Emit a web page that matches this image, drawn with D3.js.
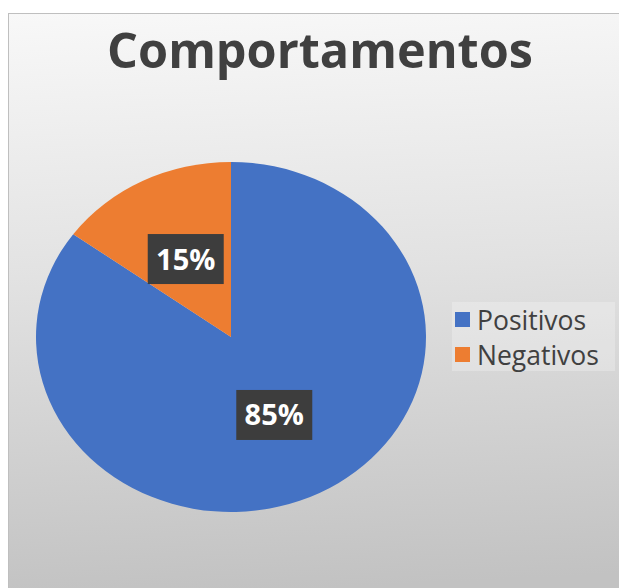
<!DOCTYPE html>
<html>
<head>
<meta charset="utf-8">
<script src="https://cdn.jsdelivr.net/npm/d3@7"></script>
<style>
  html, body { margin: 0; padding: 0; background: #ffffff; }
  svg { display: block; }
</style>
</head>
<body>
<svg id="chart" width="619" height="588"></svg>
<script>
const title = "Comportamentos";
const categories = ["Positivos", "Negativos"];
const values = [85, 15];
const colors = ["#4472C4", "#ED7D31"];

const W = 619, H = 588;
const svg = d3.select("#chart");

const defs = svg.append("defs");
const grad = defs.append("linearGradient")
  .attr("id", "bg").attr("x1", "0").attr("y1", "0").attr("x2", "0.05").attr("y2", "1");
grad.append("stop").attr("offset", "0%").attr("stop-color", "#f8f8f8");
grad.append("stop").attr("offset", "45%").attr("stop-color", "#e2e2e2");
grad.append("stop").attr("offset", "100%").attr("stop-color", "#c2c2c2");

// chart area
svg.append("rect")
  .attr("x", 8.5).attr("y", 13.5)
  .attr("width", W).attr("height", H)
  .attr("fill", "url(#bg)")
  .attr("stroke", "#bfbfbf").attr("stroke-width", 1);

// title
svg.append("text")
  .attr("x", 320).attr("y", 68)
  .attr("text-anchor", "middle")
  .attr("font-family", "'Open Sans', sans-serif")
  .attr("font-weight", "bold")
  .attr("font-size", 48.6)
  .attr("fill", "#404040")
  .text(title);

// pie
const cx = 231, cy = 337, r = 175, sx = 195 / 175;
const pie = d3.pie().sort(null).value(d => d.v);
const data = pie(categories.map((c, i) => ({ c, v: values[i], col: colors[i] })));
const arc = d3.arc().innerRadius(0).outerRadius(r);

const g = svg.append("g").attr("transform", `translate(${cx},${cy})`);
g.append("g").attr("transform", `scale(${sx},1)`)
  .selectAll("path").data(data).join("path")
  .attr("d", arc)
  .attr("fill", d => d.data.col);

// labels
const total = d3.sum(values);
const lab = g.selectAll("g.lab").data(data).join("g")
  .attr("class", "lab")
  .attr("transform", d => {
    const [x, y] = arc.centroid(d);
    return `translate(${x * sx - 1},${y})`;
  });
lab.append("rect")
  .attr("x", -38).attr("y", -25).attr("width", 76).attr("height", 50)
  .attr("fill", "#3d3d3d");
lab.append("text")
  .attr("text-anchor", "middle")
  .attr("y", 10.5)
  .attr("font-family", "'Open Sans', sans-serif")
  .attr("font-weight", "bold")
  .attr("font-size", 29)
  .attr("fill", "#ffffff")
  .text(d => Math.round(d.data.v / total * 100) + "%");

// legend
const lg = svg.append("g");
lg.append("rect")
  .attr("x", 452).attr("y", 302).attr("width", 163).attr("height", 69)
  .attr("fill", "#ffffff").attr("fill-opacity", 0.25);
const items = lg.selectAll("g.item").data(categories).join("g")
  .attr("class", "item")
  .attr("transform", (d, i) => `translate(455,${312 + i * 35})`);
items.append("rect")
  .attr("width", 15).attr("height", 15)
  .attr("fill", (d, i) => colors[i]);
items.append("text")
  .attr("x", 22).attr("y", 18)
  .attr("font-family", "'Open Sans', sans-serif")
  .attr("font-size", 26.5)
  .attr("fill", "#404040")
  .text(d => d);
</script>
</body>
</html>
